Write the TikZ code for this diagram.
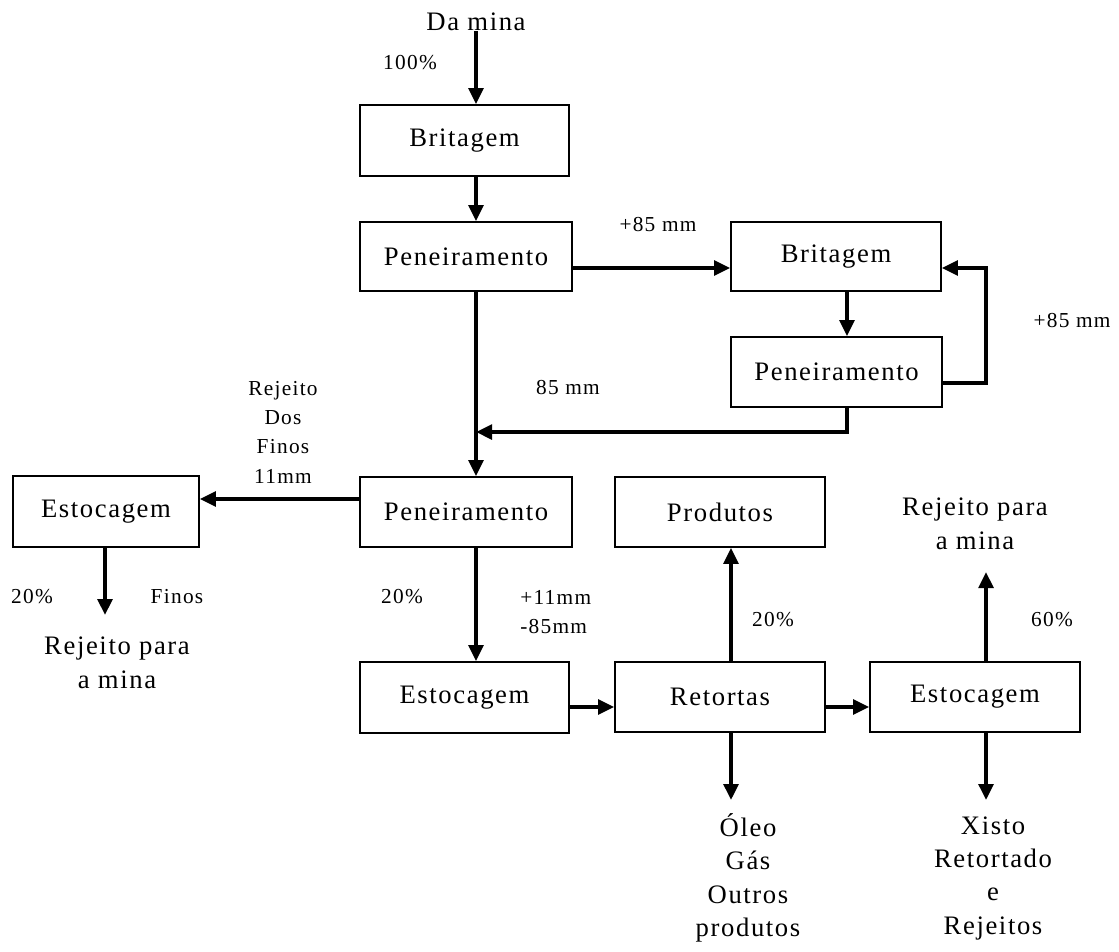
\documentclass[tikz,border=0pt]{standalone}
\usepackage{fontspec}
\setmainfont{Liberation Serif}[LetterSpace=6.0]
\usetikzlibrary{arrows.meta}
\begin{document}
\begin{tikzpicture}[x=0.75pt, y=-0.75pt,
  big/.style={font=\fontsize{20}{25.5}\selectfont},
  small/.style={font=\fontsize{16}{22}\selectfont},
  box/.style={draw, line width=1.3pt, inner sep=0pt, minimum width=157.5pt, minimum height=52.5pt, big},
  arr/.style={line width=2.7pt, line join=miter, -{Triangle[length=12pt,width=11pt]}},
  lbl/.style={inner sep=0pt, align=center}]
\useasboundingbox (0,0) rectangle (1119,951);
% boxes
\node[box, minimum width=156.75pt, minimum height=53.25pt] (brit1) at (464.5,140.5) {Britagem};
\node[box, minimum width=159pt, minimum height=51.75pt] (pen1) at (466,256.5) {Peneiramento};
\node[box, minimum height=51.75pt] (brit2) at (836,256.5) {Britagem};
\node[box, minimum width=158.25pt] (pen2) at (836.5,372) {Peneiramento};
\node[box, minimum width=139.5pt, minimum height=53.25pt] (estL) at (106,511.5) {Estocagem};
\node[box, minimum width=159pt] (pen3) at (466,512) {Peneiramento};
\node[box] (prod) at (720,512) {Produtos};
\node[box, minimum width=156.75pt, minimum height=53.25pt] (est2) at (464.5,697.5) {Estocagem};
\node[box] (ret) at (720,697) {Retortas};
\node[box] (est3) at (975,697) {Estocagem};
% helper coordinates
\coordinate (c1) at (476,0);
\coordinate (c2) at (847,0);
\coordinate (c3) at (731,0);
\coordinate (c4) at (986,0);
\coordinate (c5) at (105,0);
\coordinate (r1) at (0,268);
\coordinate (r2) at (0,383);
\coordinate (r3) at (0,432);
\coordinate (r4) at (0,499);
\coordinate (r5) at (0,707);
\coordinate (e1) at (105,615);
\coordinate (e2) at (986,572);
\coordinate (e3) at (731,800);
\coordinate (e4) at (986,800);
% texts
\node[big, lbl] (damina) at (476,22) {Da mina};
\node[big, lbl] (rejL) at (117,663) {Rejeito para\\a mina};
\node[big, lbl] (rejR) at (975,524) {Rejeito para\\a mina};
\node[lbl, font=\fontsize{20}{25}\selectfont] (oleo) at (748,878) {Óleo\\Gás\\Outros\\produtos};
\node[lbl, font=\fontsize{20}{25}\selectfont] (xisto) at (993,878) {Xisto\\Retortado\\e\\Rejeitos};
\node[small, lbl] (l100) at (410,63) {100\%};
\node[small, lbl] (l85a) at (658,224) {+85 mm};
\node[small, lbl] (l85b) at (1072,320) {+85 mm};
\node[small, lbl] (l85c) at (568,387) {85 mm};
\node[small, lbl] (lrej) at (283,432) {Rejeito\\Dos\\Finos\\11mm};
\node[small, lbl] (l20a) at (32,597) {20\%};
\node[small, lbl] (lfin) at (177,597) {Finos};
\node[small, lbl] (l20b) at (402,597) {20\%};
\node[small, lbl, align=left, anchor=west] (l11) at (520,612) {+11mm\\-85mm};
\node[small, lbl] (l20c) at (773,620) {20\%};
\node[small, lbl] (l60) at (1052,620) {60\%};
% connectors
\draw[arr] (damina.south -| c1) -- (brit1.north -| c1);
\draw[arr] (brit1.south -| c1) -- (pen1.north -| c1);
\draw[arr] (pen1.east |- r1) -- (brit2.west |- r1);
\draw[arr] (brit2.south -| c2) -- (pen2.north -| c2);
\draw[arr] (pen2.east |- r2) -| (c4 |- r1) -- (brit2.east |- r1);
\draw[arr] (pen2.south -| c2) |- (c1 |- r3);
\draw[arr] (pen1.south -| c1) -- (pen3.north -| c1);
\draw[arr] (pen3.west |- r4) -- (estL.east |- r4);
\draw[arr] (estL.south -| c5) -- (e1);
\draw[arr] (pen3.south -| c1) -- (est2.north -| c1);
\draw[arr] (est2.east |- r5) -- (ret.west |- r5);
\draw[arr] (ret.east |- r5) -- (est3.west |- r5);
\draw[arr] (ret.north -| c3) -- (prod.south -| c3);
\draw[arr] (est3.north -| c4) -- (e2);
\draw[arr] (ret.south -| c3) -- (e3);
\draw[arr] (est3.south -| c4) -- (e4);
\end{tikzpicture}
\end{document}
